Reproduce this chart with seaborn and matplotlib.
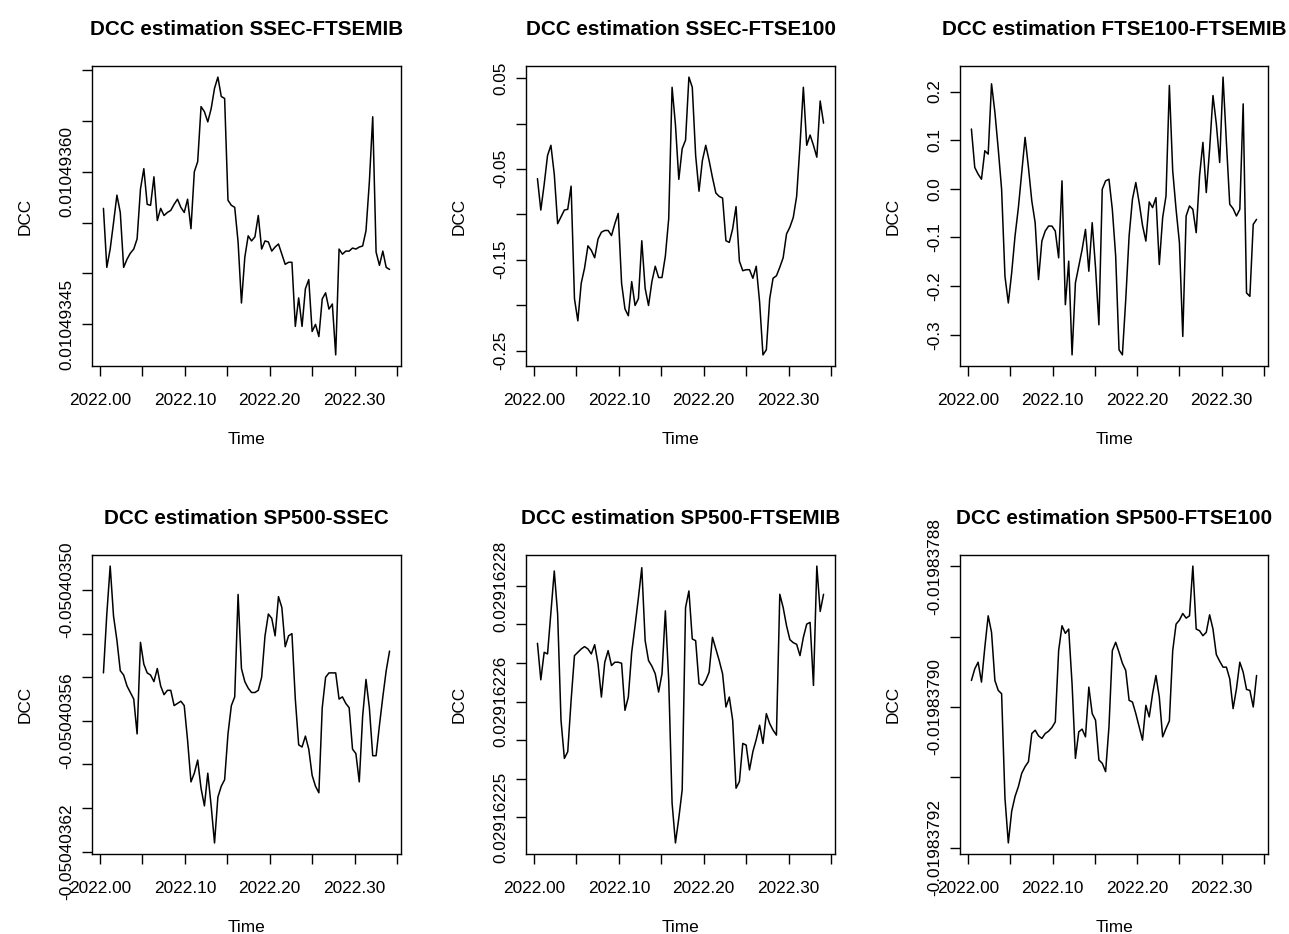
import numpy as np
import pandas as pd
import matplotlib
matplotlib.use("Agg")
import matplotlib.pyplot as plt
import seaborn as sns

# ---------------- data ----------------
ts_start = 2022
ts_frequency = 252
n_obs = 86

titles = ["DCC estimation SSEC-FTSEMIB", "DCC estimation SSEC-FTSE100",
          "DCC estimation FTSE100-FTSEMIB", "DCC estimation SP500-SSEC",
          "DCC estimation SP500-FTSEMIB", "DCC estimation SP500-FTSE100"]

dcc_ssec_ftsemib = [
    0.010493564, 0.010493506, 0.010493524, 0.010493550, 0.010493577, 0.010493560, 0.010493506, 0.010493514, 0.010493520, 0.010493524,
    0.010493534, 0.010493583, 0.010493603, 0.010493568, 0.010493567, 0.010493595, 0.010493552, 0.010493564, 0.010493557, 0.010493560,
    0.010493562, 0.010493568, 0.010493573, 0.010493565, 0.010493560, 0.010493573, 0.010493544, 0.010493600, 0.010493610, 0.010493664,
    0.010493659, 0.010493649, 0.010493662, 0.010493682, 0.010493693, 0.010493674, 0.010493672, 0.010493572, 0.010493567, 0.010493565,
    0.010493531, 0.010493471, 0.010493516, 0.010493537, 0.010493532, 0.010493536, 0.010493557, 0.010493524, 0.010493532, 0.010493531,
    0.010493522, 0.010493526, 0.010493529, 0.010493519, 0.010493509, 0.010493511, 0.010493511, 0.010493448, 0.010493476, 0.010493448,
    0.010493485, 0.010493494, 0.010493443, 0.010493450, 0.010493438, 0.010493475, 0.010493481, 0.010493465, 0.010493470, 0.010493420,
    0.010493524, 0.010493519, 0.010493522, 0.010493522, 0.010493525, 0.010493524, 0.010493526, 0.010493527, 0.010493542, 0.010493590,
    0.010493654, 0.010493521, 0.010493508, 0.010493522, 0.010493506, 0.010493504]

dcc_ssec_ftse100 = [
    -0.0607, -0.0953, -0.0671, -0.0352, -0.0240, -0.0559, -0.1103, -0.1028, -0.0953, -0.0945,
    -0.0690, -0.1929, -0.2173, -0.1760, -0.1591, -0.1347, -0.1396, -0.1478, -0.1272, -0.1197,
    -0.1178, -0.1178, -0.1234, -0.1103, -0.0990, -0.1760, -0.2041, -0.2117, -0.1741, -0.2004,
    -0.1929, -0.1291, -0.1816, -0.2004, -0.1741, -0.1572, -0.1696, -0.1696, -0.1460, -0.1047,
    0.0399, -0.0014, -0.0615, -0.0277, -0.0183, 0.0511, 0.0399, -0.0352, -0.0746, -0.0408,
    -0.0240, -0.0408, -0.0596, -0.0765, -0.0803, -0.0821, -0.1291, -0.1309, -0.1159, -0.0915,
    -0.1516, -0.1621, -0.1610, -0.1610, -0.1704, -0.1572, -0.1966, -0.2548, -0.2492, -0.1929,
    -0.1704, -0.1677, -0.1583, -0.1478, -0.1216, -0.1141, -0.1035, -0.0803, -0.0240, 0.0399,
    -0.0240, -0.0127, -0.0240, -0.0371, 0.0248, 0.0004]

dcc_ftse100_ftsemib = [
    0.1229, 0.0438, 0.0301, 0.0197, 0.0782, 0.0713, 0.2158, 0.1573, 0.0817, -0.0009,
    -0.1798, -0.2348, -0.1729, -0.0972, -0.0387, 0.0335, 0.1057, 0.0438, -0.0250, -0.0697,
    -0.1867, -0.1075, -0.0869, -0.0766, -0.0766, -0.0869, -0.1419, 0.0163, -0.2383, -0.1488,
    -0.3415, -0.1935, -0.1591, -0.1247, -0.0835, -0.1695, -0.0697, -0.1626, -0.2795, -0.0009,
    0.0163, 0.0197, -0.0422, -0.1385, -0.3311, -0.3415, -0.2279, -0.0972, -0.0215, 0.0129,
    -0.0284, -0.0752, -0.1075, -0.0270, -0.0387, -0.0181, -0.1557, -0.0594, -0.0147, 0.2124,
    0.0369, -0.0422, -0.1110, -0.3036, -0.0559, -0.0353, -0.0422, -0.0903, 0.0266, 0.0954,
    -0.0078, 0.0817, 0.1917, 0.1333, 0.0541, 0.2296, 0.0954, -0.0319, -0.0408, -0.0559,
    -0.0422, 0.1745, -0.2142, -0.2211, -0.0731, -0.0628]

dcc_sp500_ssec = [
    -0.050403538, -0.050403511, -0.050403489, -0.050403512, -0.050403523, -0.050403537, -0.050403539, -0.050403544, -0.050403547, -0.050403550,
    -0.050403566, -0.050403524, -0.050403534, -0.050403538, -0.050403539, -0.050403542, -0.050403536, -0.050403544, -0.050403548, -0.050403546,
    -0.050403546, -0.050403553, -0.050403552, -0.050403551, -0.050403553, -0.050403569, -0.050403588, -0.050403584, -0.050403578, -0.050403591,
    -0.050403599, -0.050403584, -0.050403599, -0.050403616, -0.050403595, -0.050403590, -0.050403587, -0.050403566, -0.050403553, -0.050403549,
    -0.050403502, -0.050403536, -0.050403542, -0.050403545, -0.050403547, -0.050403547, -0.050403546, -0.050403540, -0.050403521, -0.050403511,
    -0.050403513, -0.050403521, -0.050403503, -0.050403508, -0.050403526, -0.050403521, -0.050403520, -0.050403550, -0.050403571, -0.050403572,
    -0.050403567, -0.050403573, -0.050403585, -0.050403590, -0.050403593, -0.050403554, -0.050403540, -0.050403538, -0.050403538, -0.050403538,
    -0.050403550, -0.050403549, -0.050403552, -0.050403554, -0.050403573, -0.050403575, -0.050403588, -0.050403558, -0.050403541, -0.050403554,
    -0.050403576, -0.050403576, -0.050403562, -0.050403549, -0.050403537, -0.050403528]

dcc_sp500_ftsemib = [
    0.02916227256, 0.02916226782, 0.02916227139, 0.02916227118, 0.02916227656, 0.02916228194, 0.02916227634, 0.02916226257, 0.02916225762, 0.02916225849,
    0.02916226515, 0.02916227096, 0.02916227139, 0.02916227182, 0.02916227213, 0.02916227182, 0.02916227118, 0.02916227238, 0.02916226989, 0.02916226558,
    0.02916227010, 0.02916227161, 0.02916226967, 0.02916227010, 0.02916227010, 0.02916226997, 0.02916226386, 0.02916226558, 0.02916227139, 0.02916227484,
    0.02916227849, 0.02916228237, 0.02916227290, 0.02916227032, 0.02916226959, 0.02916226860, 0.02916226623, 0.02916226860, 0.02916227677, 0.02916226774,
    0.02916225182, 0.02916224665, 0.02916224988, 0.02916225354, 0.02916227720, 0.02916227935, 0.02916227312, 0.02916227290, 0.02916226731, 0.02916226709,
    0.02916226774, 0.02916226881, 0.02916227333, 0.02916227182, 0.02916227032, 0.02916226860, 0.02916226429, 0.02916226558, 0.02916226257, 0.02916225375,
    0.02916225461, 0.02916225956, 0.02916225935, 0.02916225612, 0.02916225849, 0.02916226008, 0.02916226193, 0.02916225956, 0.02916226343, 0.02916226214,
    0.02916226128, 0.02916226064, 0.02916227892, 0.02916227720, 0.02916227484, 0.02916227303, 0.02916227264, 0.02916227243, 0.02916227096, 0.02916227333,
    0.02916227505, 0.02916227527, 0.02916226709, 0.02916228258, 0.02916227669, 0.02916227892]

dcc_sp500_ftse100 = [
    -0.01983789624, -0.01983789459, -0.01983789365, -0.01983789647, -0.01983789153, -0.01983788706, -0.01983788941, -0.01983789624, -0.01983789765, -0.01983789812,
    -0.01983791294, -0.01983791930, -0.01983791482, -0.01983791271, -0.01983791130, -0.01983790941, -0.01983790847, -0.01983790777, -0.01983790377, -0.01983790330,
    -0.01983790410, -0.01983790447, -0.01983790377, -0.01983790344, -0.01983790292, -0.01983790212, -0.01983789200, -0.01983788847, -0.01983788955, -0.01983788894,
    -0.01983789671, -0.01983790730, -0.01983790353, -0.01983790315, -0.01983790424, -0.01983789718, -0.01983790094, -0.01983790188, -0.01983790753, -0.01983790800,
    -0.01983790918, -0.01983790282, -0.01983789200, -0.01983789082, -0.01983789224, -0.01983789379, -0.01983789482, -0.01983789906, -0.01983789930, -0.01983790094,
    -0.01983790282, -0.01983790471, -0.01983789977, -0.01983790141, -0.01983789812, -0.01983789553, -0.01983789859, -0.01983790424, -0.01983790306, -0.01983790198,
    -0.01983789200, -0.01983788824, -0.01983788767, -0.01983788673, -0.01983788739, -0.01983788706, -0.01983788000, -0.01983788894, -0.01983788918, -0.01983788988,
    -0.01983788941, -0.01983788692, -0.01983788894, -0.01983789257, -0.01983789351, -0.01983789435, -0.01983789435, -0.01983789600, -0.01983790024, -0.01983789741,
    -0.01983789365, -0.01983789506, -0.01983789751, -0.01983789765, -0.01983790000, -0.01983789553]

x_ticks = [2022.00, 2022.05, 2022.10, 2022.15, 2022.20, 2022.25, 2022.30, 2022.35]
x_tick_labels = ["2022.00", "", "2022.10", "", "2022.20", "", "2022.30", ""]

y_ticks_1 = [0.01049345, 0.01049350, 0.01049355, 0.01049360, 0.01049365, 0.01049370]
y_labels_1 = ["0.01049345", "", "", "0.01049360", "", ""]
y_ticks_2 = [-0.25, -0.20, -0.15, -0.10, -0.05, 0.00, 0.05]
y_labels_2 = ["-0.25", "", "-0.15", "", "-0.05", "", "0.05"]
y_ticks_3 = [-0.3, -0.2, -0.1, 0.0, 0.1, 0.2]
y_labels_3 = ["-0.3", "-0.2", "-0.1", "0.0", "0.1", "0.2"]
y_ticks_4 = [-0.05040362, -0.05040360, -0.05040358, -0.05040356, -0.05040354, -0.05040352, -0.05040350]
y_labels_4 = ["-0.05040362", "", "", "-0.05040356", "", "", "-0.05040350"]
y_ticks_5 = [0.029162250, 0.029162255, 0.029162260, 0.029162265, 0.029162270, 0.029162275, 0.029162280]
y_labels_5 = ["0.02916225", "", "", "0.02916226", "", "", "0.02916228"]
y_ticks_6 = [-0.01983792, -0.01983791, -0.01983790, -0.01983789, -0.01983788]
y_labels_6 = ["-0.01983792", "", "-0.01983790", "", "-0.01983788"]

series = [dcc_ssec_ftsemib, dcc_ssec_ftse100, dcc_ftse100_ftsemib,
          dcc_sp500_ssec, dcc_sp500_ftsemib, dcc_sp500_ftse100]
y_ticks = [y_ticks_1, y_ticks_2, y_ticks_3, y_ticks_4, y_ticks_5, y_ticks_6]
y_labels = [y_labels_1, y_labels_2, y_labels_3, y_labels_4, y_labels_5, y_labels_6]

# ---------------- style ----------------
sns.set_style("white")
plt.rcParams["font.family"] = ["Liberation Sans", "DejaVu Sans"]
plt.rcParams["text.color"] = "black"
plt.rcParams["axes.labelcolor"] = "black"
plt.rcParams["axes.titlecolor"] = "black"

W, H = 1289, 934
fig = plt.figure(figsize=(W / 100, H / 100), dpi=100)
fig.patch.set_facecolor("white")

# plot boxes in pixels: left, top, right, bottom
boxes = [(92, 66, 401, 366), (526, 66, 835, 366), (960, 66, 1268, 366),
         (92, 555, 401, 854), (526, 555, 835, 854), (960, 555, 1268, 854)]

time = ts_start + np.arange(1, n_obs + 1) / ts_frequency

for i in range(6):
    l, t, r, b = boxes[i]
    ax = fig.add_axes([l / W, 1 - b / H, (r - l) / W, (b - t) / H])
    df = pd.DataFrame({"Time": time, "DCC": np.array(series[i], dtype=float)})
    sns.lineplot(data=df, x="Time", y="DCC", ax=ax, color="black",
                 linewidth=1.1, estimator=None, errorbar=None)

    ax.set_xticks(x_ticks)
    ax.set_xticklabels(x_tick_labels)
    ax.set_yticks(y_ticks[i])
    ax.set_yticklabels(y_labels[i], rotation=90, va="center")

    xmin, xmax = df["Time"].min(), df["Time"].max()
    ymin, ymax = df["DCC"].min(), df["DCC"].max()
    ax.set_xlim(xmin - 0.04 * (xmax - xmin), xmax + 0.04 * (xmax - xmin))
    ax.set_ylim(ymin - 0.04 * (ymax - ymin), ymax + 0.04 * (ymax - ymin))

    ax.tick_params(direction="out", length=7.2, width=1.0, colors="black",
                   labelsize=12.4, left=True, bottom=True)
    ax.tick_params(axis="x", pad=12.5)
    ax.tick_params(axis="y", pad=5.5)
    for s in ax.spines.values():
        s.set_visible(True)
        s.set_color("black")
        s.set_linewidth(1.0)
    ax.grid(False)

    ax.set_title(titles[i], fontsize=14.9, fontweight="bold", pad=22,
                 color="black")
    ax.set_xlabel("Time", fontsize=12.4, color="black")
    ax.set_ylabel("DCC", fontsize=12.4, color="black")
    ax.xaxis.set_label_coords(0.5, -0.22)
    ax.yaxis.set_label_coords(-59.0 / (r - l), 0.5)

fig.savefig("out.png", dpi=100, facecolor="white")
